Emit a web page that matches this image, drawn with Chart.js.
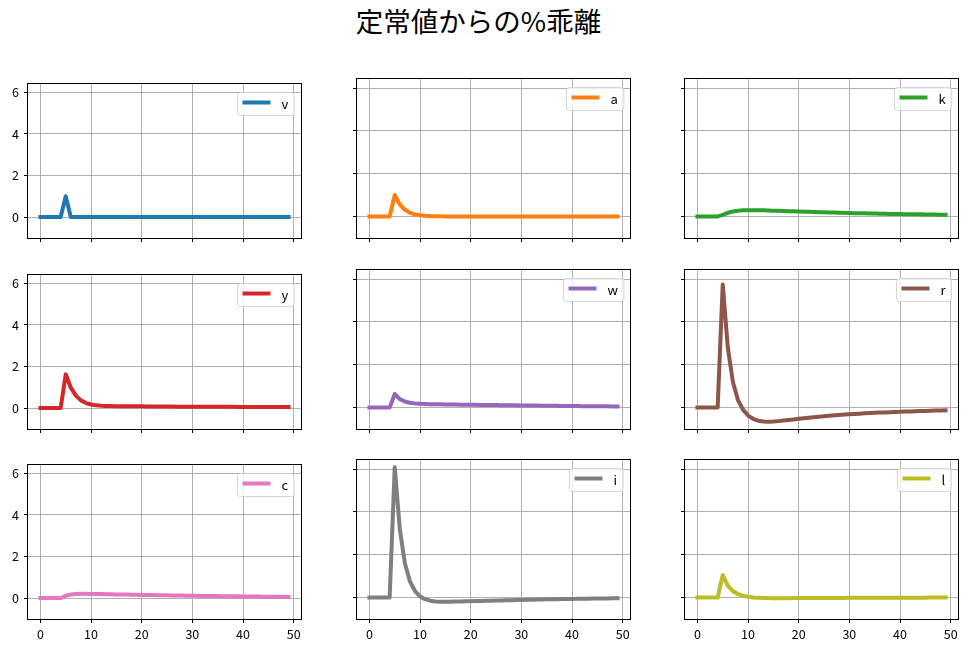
<!DOCTYPE html>
<html><head><meta charset="utf-8">
<script src="https://cdn.jsdelivr.net/npm/chart.js@4/dist/chart.umd.min.js"></script>
<style>
html,body{margin:0;padding:0;background:#fff;}
body{width:969px;height:651px;position:relative;overflow:hidden;font-family:"Noto Sans CJK JP";}
#title{position:absolute;left:0;width:957px;top:5px;text-align:center;font-size:27.5px;line-height:30px;color:#000;font-family:"Noto Sans CJK JP";}
canvas{position:absolute;}
</style></head><body>
<div id="title">定常値からの%乖離</div>
<script>
// ---- data ----
const periods = [0,1,2,3,4,5,6,7,8,9,10,11,12,13,14,15,16,17,18,19,20,21,22,23,24,25,26,27,28,29,30,31,32,33,34,35,36,37,38,39,40,41,42,43,44,45,46,47,48,49];
const seriesNames = ['v','a','k','y','w','r','c','i','l'];
const seriesColors = ['#1f77b4','#ff7f0e','#2ca02c','#d62728','#9467bd','#8c564b','#e377c2','#7f7f7f','#bcbd22'];
const xTicks = [0,10,20,30,40,50];
const yTicks = [0,2,4,6];

const v = [0,0,0,0,0,1,0,0,0,0,0,0,0,0,0,0,0,0,0,0,0,0,0,0,0,0,0,0,0,0,0,0,0,0,0,0,0,0,0,0,0,0,0,0,0,0,0,0,0,0];
const a = [0,0,0,0,0,1.0,0.56,0.31,0.17,0.095,0.053,0.03,0.016,0.009,0.005,0.003,0.002,0.001,0,0,0,0,0,0,0,0,0,0,0,0,0,0,0,0,0,0,0,0,0,0,0,0,0,0,0,0,0,0,0,0];
const k = [0,0,0,0,0,0.07,0.17,0.23,0.265,0.285,0.295,0.295,0.29,0.285,0.278,0.27,0.262,0.254,0.246,0.238,0.23,0.222,0.215,0.207,0.20,0.193,0.186,0.18,0.173,0.167,0.16,0.155,0.15,0.145,0.14,0.135,0.13,0.125,0.12,0.115,0.11,0.107,0.104,0.10,0.097,0.094,0.091,0.088,0.085,0.082];
const y = [0,0,0,0,0,1.63,0.98,0.6,0.37,0.24,0.17,0.13,0.11,0.1,0.095,0.092,0.09,0.088,0.086,0.084,0.082,0.08,0.078,0.076,0.074,0.072,0.07,0.068,0.067,0.066,0.065,0.064,0.063,0.062,0.061,0.06,0.059,0.058,0.057,0.056,0.055,0.054,0.053,0.052,0.051,0.05,0.049,0.048,0.047,0.046];
const w = [0,0,0,0,0,0.63,0.39,0.28,0.22,0.19,0.17,0.16,0.155,0.15,0.145,0.14,0.137,0.134,0.131,0.128,0.125,0.122,0.119,0.116,0.113,0.11,0.107,0.104,0.101,0.098,0.095,0.092,0.089,0.086,0.083,0.08,0.077,0.074,0.071,0.068,0.065,0.063,0.061,0.059,0.057,0.055,0.053,0.051,0.049,0.047];
const r = [0,0,0,0,0,5.75,2.8,1.2,0.35,-0.1,-0.38,-0.53,-0.62,-0.66,-0.67,-0.66,-0.64,-0.615,-0.59,-0.56,-0.53,-0.505,-0.48,-0.455,-0.43,-0.41,-0.39,-0.37,-0.35,-0.335,-0.32,-0.305,-0.29,-0.277,-0.265,-0.253,-0.242,-0.231,-0.221,-0.211,-0.202,-0.193,-0.185,-0.177,-0.169,-0.162,-0.155,-0.148,-0.142,-0.136];
const c = [0,0,0,0,0,0.11,0.17,0.195,0.205,0.205,0.2,0.196,0.191,0.186,0.181,0.176,0.171,0.166,0.161,0.156,0.151,0.147,0.143,0.139,0.135,0.131,0.127,0.123,0.119,0.115,0.111,0.107,0.104,0.1,0.097,0.094,0.09,0.087,0.084,0.081,0.078,0.075,0.072,0.069,0.066,0.063,0.06,0.057,0.054,0.052];
const i = [0,0,0,0,0,6.09,3.2,1.6,0.75,0.3,0.05,-0.08,-0.15,-0.185,-0.2,-0.2,-0.197,-0.192,-0.186,-0.18,-0.174,-0.168,-0.162,-0.156,-0.15,-0.144,-0.138,-0.132,-0.126,-0.12,-0.114,-0.109,-0.104,-0.099,-0.094,-0.089,-0.085,-0.081,-0.077,-0.073,-0.069,-0.065,-0.061,-0.058,-0.055,-0.052,-0.049,-0.046,-0.043,-0.04];
const l = [0,0,0,0,0,1.05,0.55,0.3,0.16,0.08,0.03,0.0,-0.015,-0.025,-0.03,-0.032,-0.033,-0.033,-0.032,-0.031,-0.03,-0.029,-0.028,-0.027,-0.026,-0.025,-0.024,-0.023,-0.022,-0.021,-0.02,-0.019,-0.018,-0.017,-0.016,-0.015,-0.014,-0.014,-0.013,-0.012,-0.012,-0.011,-0.01,-0.01,-0.009,-0.009,-0.008,-0.008,-0.007,-0.007];

const seriesValues = [v,a,k,y,w,r,c,i,l];

// ---- shared ranges (matplotlib-like 5% margins) ----
const allVals = seriesValues.flat();
const dMin = Math.min(...allVals), dMax = Math.max(...allVals);
const yMin = dMin - 0.05*(dMax-dMin), yMax = dMax + 0.05*(dMax-dMin);
const pMin = Math.min(...periods), pMax = Math.max(...periods);
const xMin = pMin - 0.05*(pMax-pMin), xMax = pMax + 0.05*(pMax-pMin);

// ---- layout ----
const axLeft = [28, 357, 685];
const axTop = [79, 270, 460];
const AX_W = 273, AX_H = 159;
const PAD_L = 28, PAD_T = 8, PAD_R = 10, PAD_B = 25;
const FONT = '"Noto Sans CJK JP", "Noto Sans", sans-serif';

const framePlugin = {
  id:'frame',
  afterDatasetsDraw(chart){
    const ctx = chart.ctx, ca = chart.chartArea;
    ctx.save();
    ctx.strokeStyle = '#000';
    ctx.lineWidth = 1;
    const L = Math.round(ca.left)-0.5, T = Math.round(ca.top)-0.5;
    const R = Math.round(ca.right)+0.5, B = Math.round(ca.bottom)+0.5;
    ctx.strokeRect(L, T, R-L, B-T);
    ctx.restore();
  }
};

const legendBoxPlugin = {
  id:'legendBox',
  afterDraw(chart){
    const ctx = chart.ctx, ca = chart.chartArea, ds = chart.data.datasets[0];
    ctx.save();
    ctx.font = '13px ' + FONT;
    const tw = ctx.measureText(ds.label).width;
    const pad = 5.5, hl = 28, tp = 11, h = 23;
    const bw = pad + hl + tp + tw + pad;
    const bx = Math.round(ca.right - 7 - bw), by = Math.round(ca.top + 8);
    ctx.beginPath();
    ctx.roundRect(bx + 0.5, by + 0.5, bw, h, 3);
    ctx.fillStyle = 'rgba(255,255,255,0.8)';
    ctx.fill();
    ctx.strokeStyle = 'rgba(204,204,204,0.8)';
    ctx.lineWidth = 1;
    ctx.stroke();
    ctx.beginPath();
    ctx.moveTo(bx + pad + 2, by + 10.5);
    ctx.lineTo(bx + pad + hl - 2, by + 10.5);
    ctx.strokeStyle = ds.borderColor;
    ctx.lineWidth = 4;
    ctx.lineCap = 'square';
    ctx.stroke();
    ctx.fillStyle = '#000';
    ctx.textBaseline = 'middle';
    ctx.textAlign = 'left';
    ctx.fillText(ds.label, bx + pad + hl + tp, by + 12);
    ctx.restore();
  }
};

seriesNames.forEach((name, n) => {
  const row = Math.floor(n/3), col = n % 3;
  const cv = document.createElement('canvas');
  const cw = PAD_L + AX_W + PAD_R, ch = PAD_T + AX_H + PAD_B;
  cv.width = cw; cv.height = ch;
  cv.style.left = (axLeft[col] - PAD_L) + 'px';
  cv.style.top = (axTop[row] - PAD_T) + 'px';
  cv.style.width = cw + 'px'; cv.style.height = ch + 'px';
  document.body.appendChild(cv);
  const vals = seriesValues[n];
  new Chart(cv, {
    type:'line',
    data:{datasets:[{
      label:name,
      data: periods.map((t, j) => ({x:t, y:vals[j]})),
      borderColor: seriesColors[n],
      backgroundColor: seriesColors[n],
      borderWidth: 4,
      pointRadius: 0,
      tension: 0,
      fill: false,
      borderCapStyle: 'square',
      borderJoinStyle: 'round'
    }]},
    options:{
      responsive:false,
      animation:false,
      devicePixelRatio:1,
      layout:{padding:{top:PAD_T, right:PAD_R, left:0, bottom:0}},
      plugins:{legend:{display:false}, tooltip:{enabled:false}, title:{display:false}},
      scales:{
        x:{
          type:'linear', min:xMin, max:xMax,
          afterBuildTicks: s => { s.ticks = xTicks.map(t => ({value:t})); },
          afterFit: s => { s.height = PAD_B; },
          ticks:{display: row === 2, color:'#000', font:{family:FONT, size:12.5}, padding:4, autoSkip:false, maxRotation:0, minRotation:0},
          grid:{color:'#b0b0b0', lineWidth:1, drawTicks:true, tickLength:4, tickColor:'#000', tickWidth:1},
          border:{display:false}
        },
        y:{
          type:'linear', min:yMin, max:yMax,
          afterBuildTicks: s => { s.ticks = yTicks.map(t => ({value:t})); },
          afterFit: s => { s.width = PAD_L; },
          ticks:{display: col === 0, color:'#000', font:{family:FONT, size:12.5}, padding:5, autoSkip:false},
          grid:{color:'#b0b0b0', lineWidth:1, drawTicks:true, tickLength:4, tickColor:'#000', tickWidth:1},
          border:{display:false}
        }
      }
    },
    plugins:[framePlugin, legendBoxPlugin]
  });
});
</script>
</body></html>
